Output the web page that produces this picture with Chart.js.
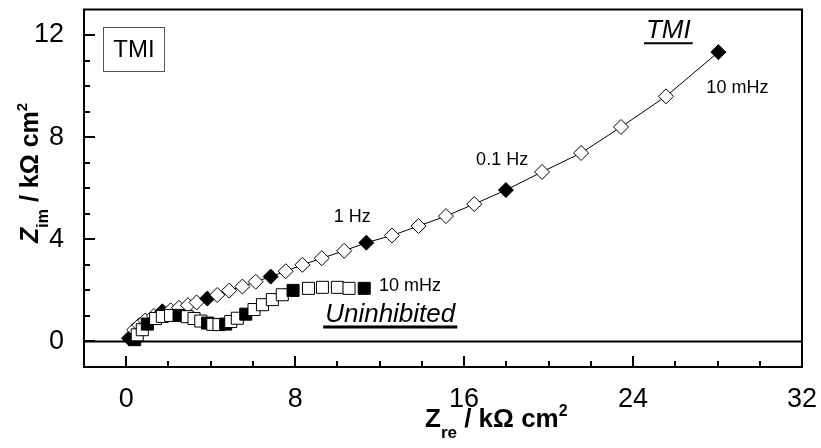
<!DOCTYPE html>
<html>
<head>
<meta charset="utf-8">
<script src="https://cdn.jsdelivr.net/npm/chart.js@4/dist/chart.umd.min.js"></script>
<style>
  body { margin: 0; background: #fff; }
</style>
</head>
<body>
<canvas id="chart" width="821" height="448"></canvas>
<script>
// Nyquist data, kOhm cm2
const tmiX = [0.13, 0.38, 0.62, 0.9, 1.31, 1.71, 2.1, 2.5, 2.92, 3.33, 3.84, 4.31, 4.87, 5.5, 6.13, 6.84,
  7.55, 8.34, 9.26, 10.32, 11.37, 12.58, 13.84, 15.14, 16.48, 17.98, 19.69, 21.54, 23.43, 25.56, 28.04];
const tmiY = [0.13, 0.46, 0.64, 0.82, 1.0, 1.18, 1.22, 1.32, 1.42, 1.53, 1.68, 1.82, 1.99, 2.15, 2.34, 2.54,
  2.75, 3.0, 3.26, 3.55, 3.87, 4.15, 4.52, 4.91, 5.38, 5.93, 6.64, 7.38, 8.4, 9.6, 11.33];
const tmiFilled = [1, 0, 0, 0, 0, 1, 0, 0, 0, 0, 1, 0, 0, 0, 0, 1,
  0, 0, 0, 0, 1, 0, 0, 0, 0, 1, 0, 0, 0, 0, 1];

const uninhX = [0.4, 0.52, 0.76, 1.0, 1.39, 1.71, 2.1, 2.5, 2.89, 3.21, 3.53, 3.85, 4.1, 4.39, 4.71,
  4.95, 5.26, 5.66, 6.05, 6.45, 6.92, 7.39, 7.9, 8.63, 9.29, 10.0, 10.55, 11.27];
const uninhY = [0.07, 0.26, 0.46, 0.68, 0.9, 0.98, 1.02, 1.02, 0.97, 0.9, 0.8, 0.72, 0.67, 0.66, 0.68,
  0.78, 0.91, 1.07, 1.25, 1.44, 1.64, 1.83, 2.0, 2.08, 2.12, 2.12, 2.08, 2.08];
const uninhFilled = [1, 0, 0, 1, 0, 0, 0, 1, 0, 0, 0, 1, 0, 0, 1,
  0, 0, 1, 0, 0, 0, 0, 1, 0, 0, 0, 0, 1];

const xTicks = [0, 8, 16, 24, 32];
const yTicks = [0, 4, 8, 12];

const freqLabels = ['1 Hz', '0.1 Hz', '10 mHz', '10 mHz'];
const freqLabelX = [10.7, 17.8, 28.94, 13.44];
const freqLabelY = [4.87, 7.1, 9.91, 2.18];

const FONT = '"Liberation Sans", Arial, sans-serif';

function toPoints(xs, ys) {
  return xs.map((x, i) => ({ x: x, y: ys[i] }));
}

function drawParts(ctx, parts, x, y) {
  parts.forEach((p) => {
    ctx.font = p.font;
    ctx.fillText(p.t, x, y + p.dy);
    x += ctx.measureText(p.t).width;
  });
}

function underlined(ctx, text, cx, cy, lw) {
  ctx.textAlign = 'center';
  ctx.textBaseline = 'middle';
  ctx.fillText(text, cx, cy);
  const w = ctx.measureText(text).width;
  ctx.lineWidth = lw;
  ctx.beginPath();
  ctx.moveTo(cx - w / 2 - 2, cy + 12);
  ctx.lineTo(cx + w / 2 + 2, cy + 12);
  ctx.stroke();
}

const framePlugin = {
  id: 'frame',
  beforeDatasetsDraw(chart) {
    const { ctx, chartArea: a, scales: { y } } = chart;
    const y0 = y.getPixelForValue(0);
    ctx.save();
    ctx.strokeStyle = '#000';
    ctx.lineWidth = 2;
    ctx.beginPath();
    ctx.moveTo(a.left, y0);
    ctx.lineTo(a.right, y0);
    ctx.stroke();
    ctx.restore();
  },
  afterDraw(chart) {
    const { ctx, chartArea: a, scales: { x, y } } = chart;
    ctx.save();
    ctx.strokeStyle = '#000';
    ctx.fillStyle = '#000';
    ctx.lineWidth = 2;
    ctx.strokeRect(a.left, a.top, a.right - a.left, a.bottom - a.top);

    // inward ticks
    ctx.beginPath();
    for (let v = 0; v < 32; v += 2) {
      const px = Math.round(x.getPixelForValue(v));
      const len = xTicks.includes(v) ? 11 : 6;
      ctx.moveTo(px, a.bottom);
      ctx.lineTo(px, a.bottom - len);
    }
    for (let v = 0; v <= 12; v += 1) {
      const py = Math.round(y.getPixelForValue(v));
      const len = yTicks.includes(v) ? 11 : 6;
      ctx.moveTo(a.left, py);
      ctx.lineTo(a.left + len, py);
    }
    ctx.stroke();

    // frequency labels
    ctx.font = '18px ' + FONT;
    ctx.textAlign = 'center';
    ctx.textBaseline = 'middle';
    freqLabels.forEach((t, i) => {
      ctx.fillText(t, x.getPixelForValue(freqLabelX[i]), y.getPixelForValue(freqLabelY[i]));
    });

    // curve names
    ctx.font = 'italic 26px ' + FONT;
    underlined(ctx, 'TMI', x.getPixelForValue(25.67), y.getPixelForValue(12.15), 2);
    underlined(ctx, 'Uninhibited', x.getPixelForValue(12.5), y.getPixelForValue(1.04), 3);

    // boxed label
    ctx.lineWidth = 1;
    ctx.strokeStyle = '#555';
    ctx.strokeRect(103.5, 27.5, 61, 44);
    ctx.font = '24px ' + FONT;
    ctx.fillText('TMI', 134, 50);

    // axis titles
    ctx.textAlign = 'left';
    ctx.textBaseline = 'alphabetic';
    drawParts(ctx, [
      { t: 'Z', font: 'bold 26px ' + FONT, dy: 0 },
      { t: 're', font: 'bold 17px ' + FONT, dy: 11 },
      { t: ' / k\u03A9 cm', font: 'bold 26px ' + FONT, dy: 0 },
      { t: '2', font: 'bold 16px ' + FONT, dy: -11 }
    ], 425, 427);

    ctx.translate(38, 243);
    ctx.rotate(-Math.PI / 2);
    drawParts(ctx, [
      { t: 'Z', font: 'italic bold 25px ' + FONT, dy: 0 },
      { t: 'im', font: 'bold 16px ' + FONT, dy: 10 },
      { t: ' / k\u03A9 cm', font: 'bold 25px ' + FONT, dy: 0 },
      { t: '2', font: 'bold 15px ' + FONT, dy: -11 }
    ], 0, 0);
    ctx.restore();
  }
};

new Chart(document.getElementById('chart'), {
  type: 'scatter',
  data: {
    datasets: [
      {
        label: 'TMI',
        data: toPoints(tmiX, tmiY),
        showLine: true,
        borderColor: '#000',
        borderWidth: 1,
        pointStyle: 'rectRot',
        pointRadius: 7.5,
        pointBorderWidth: 1,
        pointBorderColor: '#000',
        pointBackgroundColor: tmiFilled.map((f) => (f ? '#000' : '#fff')),
        order: 2
      },
      {
        label: 'Uninhibited',
        data: toPoints(uninhX, uninhY),
        showLine: false,
        pointStyle: 'rect',
        pointRadius: 8.5,
        pointBorderWidth: 1,
        pointBorderColor: '#000',
        pointBackgroundColor: uninhFilled.map((f) => (f ? '#000' : '#fff')),
        order: 1
      }
    ]
  },
  options: {
    responsive: false,
    animation: false,
    layout: { padding: { top: 9, right: 19, left: 0, bottom: 0 } },
    plugins: { legend: { display: false }, tooltip: { enabled: false } },
    scales: {
      x: {
        type: 'linear',
        min: -2,
        max: 32,
        grid: { display: false },
        border: { display: false },
        afterFit: (s) => { s.height = 81; s.paddingLeft = 0; s.paddingRight = 0; },
        afterBuildTicks: (s) => { s.ticks = xTicks.map((v) => ({ value: v })); },
        ticks: { color: '#000', padding: 8, font: { family: FONT, size: 27 } }
      },
      y: {
        type: 'linear',
        min: -1,
        max: 13,
        grid: { display: false },
        border: { display: false },
        afterFit: (s) => { s.width = 84; s.paddingTop = 0; s.paddingBottom = 0; },
        afterBuildTicks: (s) => { s.ticks = yTicks.map((v) => ({ value: v })); },
        ticks: { color: '#000', padding: 12, font: { family: FONT, size: 27 } }
      }
    }
  },
  plugins: [framePlugin]
});
</script>
</body>
</html>
